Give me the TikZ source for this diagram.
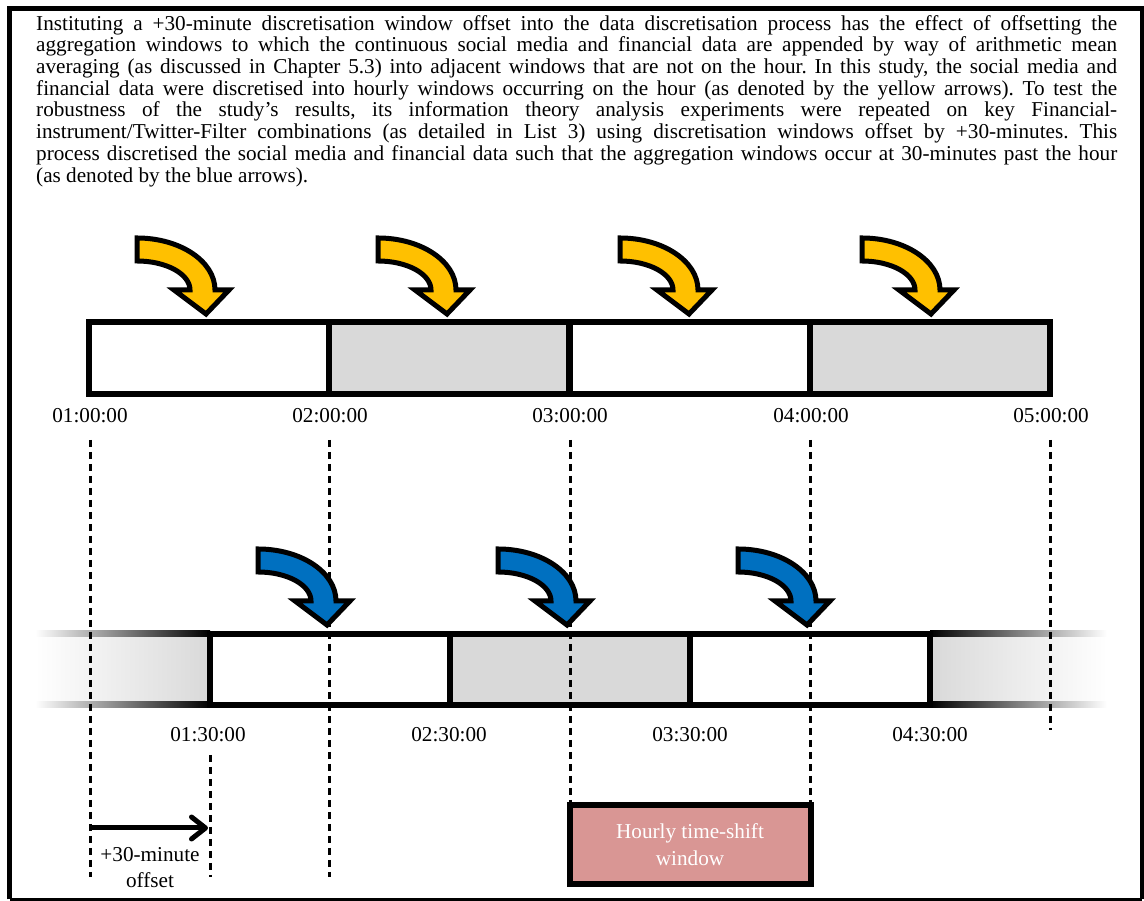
\documentclass[tikz,border=0pt]{standalone}
\usepackage{fontspec}
\setmainfont{Liberation Serif}
\usetikzlibrary{arrows.meta}
\definecolor{hourgold}{HTML}{FFC000}
\definecolor{shiftblue}{HTML}{0070C0}
\definecolor{wingray}{HTML}{D9D9D9}
\definecolor{boxrose}{HTML}{D99694}
\frenchspacing
\begin{document}
\begin{tikzpicture}[x=1pt,y=1pt,
    pics/bentarrow/.style={code={
        \draw[arrowline,fill=#1] (0,52) arc[start angle=90,end angle=0,x radius=78,y radius=52]
            -- (92,0) -- (69,-24) -- (37,0) -- (53,0)
            arc[start angle=0,end angle=90,x radius=53,y radius=29] -- cycle;}}]
    \tikzstyle{every node} = [inner sep=0pt, font=\fontsize{21.2}{21.7}\selectfont]
    \tikzstyle{arrowline} = [draw=black, line width=5pt, line join=miter]
    \tikzstyle{barline} = [draw=black, line width=6pt]
    \tikzstyle{gridline} = [draw=black, line width=3pt, dash pattern=on 7pt off 5pt]
    \tikzstyle{timelabel} = [anchor=center]
    \tikzstyle{shiftbox} = [draw=black, line width=6pt, fill=boxrose, text=white,
        minimum width=241pt, minimum height=79pt, align=center,
        font=\fontsize{21.2}{27}\selectfont]
    \useasboundingbox (0,0) rectangle (1144,901);
    % frame
    \draw[line width=5pt] (9.5,1.5) -- (9.5,892) -- (1142,892) -- (1142,1.5);
    \draw[line width=2.5pt] (9.5,1.5) -- (1142,1.5);
    % caption text
    \node[anchor=north west, text width=1081pt, align=justify] (caption) at (36,886)
        {Instituting a +30-minute discretisation window offset into the data discretisation process has the effect of offsetting the\linebreak
        aggregation windows to which the continuous social media and financial data are appended by way of arithmetic mean\linebreak
        averaging (as discussed in Chapter 5.3) into adjacent windows that are not on the hour. In this study, the social media and\linebreak
        financial data were discretised into hourly windows occurring on the hour (as denoted by the yellow arrows). To test the\linebreak
        robustness of the study's results, its information theory analysis experiments were repeated on key Financial-\linebreak
        instrument/Twitter-Filter combinations (as detailed in List 3) using discretisation windows offset by +30-minutes. This\linebreak
        process discretised the social media and financial data such that the aggregation windows occur at 30-minutes past the hour\linebreak
        (as denoted by the blue arrows).\par};
    % hourly windows
    \foreach \x in {137,378,620,862}
        \pic at (\x,611) {bentarrow=hourgold};
    \foreach \x/\c in {89/white,329/wingray,570/white,810/wingray}
        \draw[barline,fill=\c] (\x,507) rectangle +(240,72);
    \foreach \x/\t [count=\i] in {90/01:00:00,330/02:00:00,570/03:00:00,811/04:00:00,1051/05:00:00}
        \node[timelabel] (hour\i) at (\x,485) {\t};
    % shifted windows
    \shade[left color=white, right color=wingray] (35,196) rectangle (210,267);
    \shade[left color=white, right color=black] (35,264) rectangle (210,270);
    \shade[left color=white, right color=black] (35,193) rectangle (210,199);
    \shade[right color=white, left color=wingray] (930,196) rectangle (1107,267);
    \shade[right color=white, left color=black] (930,264) rectangle (1107,270);
    \shade[right color=white, left color=black] (930,193) rectangle (1107,199);
    \foreach \x/\c in {210/white,450/wingray,690/white}
        \draw[barline,fill=\c] (\x,196) rectangle +(240,71);
    \foreach \x/\t [count=\i] in {208/01:30:00,449/02:30:00,690/03:30:00,930/04:30:00}
        \node[timelabel] (half\i) at (\x,166) {\t};
    % box
    \node[shiftbox] (shift) at (690,56) {Hourly time-shift\\window};
    % dashed guides
    \foreach \x/\yb [count=\i] in {90/24,329/24,570/98,810/98,1050/171} {
        \coordinate (gtop\i) at (\x,461);
        \coordinate (gbot\i) at (\x,\yb);
        \draw[gridline] (gtop\i) -- (gbot\i);
    }
    \coordinate (otop) at (210,146);
    \coordinate (obot) at (210,24);
    \draw[gridline] (otop) -- (obot);
    \foreach \x in {258,498,738}
        \pic at (\x,300) {bentarrow=shiftblue};
    % offset arrow
    \coordinate (offL) at (90,73);
    \coordinate (offR) at (208,73);
    \draw[line width=5pt, -{Straight Barb[length=14pt,width=22pt,round]}] (offL) -- (offR);
    \node[align=center, font=\fontsize{21.2}{26}\selectfont] (offtext) at (150,33) {+30-minute\\offset};
\end{tikzpicture}
\end{document}
